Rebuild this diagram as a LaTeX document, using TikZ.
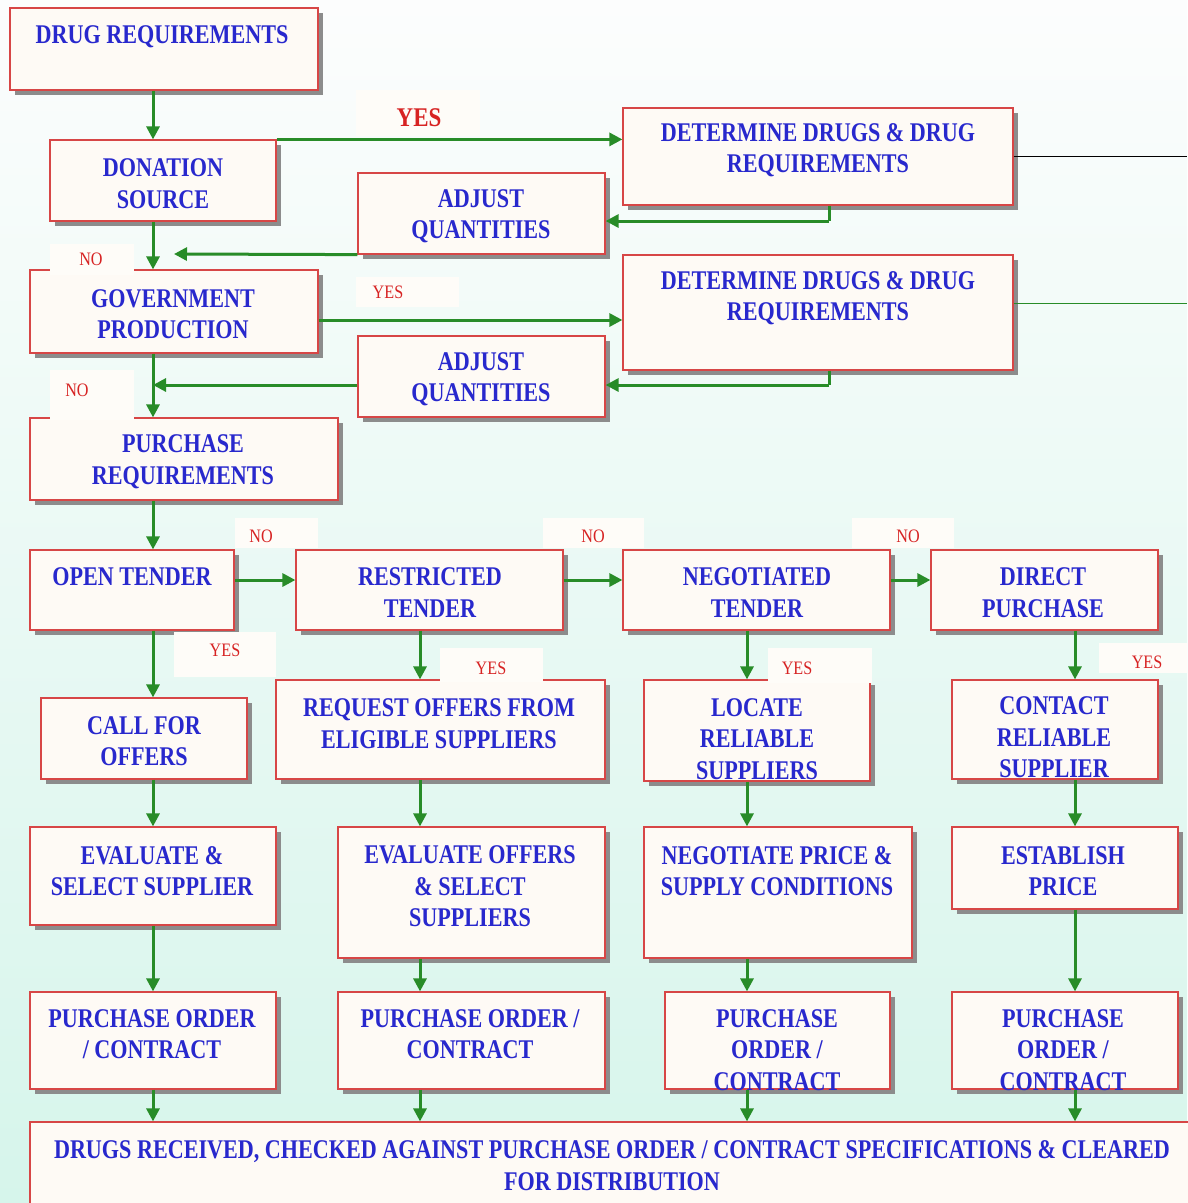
\documentclass[tikz,border=0pt]{standalone}
\usepackage{fontspec}
\setmainfont{Liberation Serif}
\newfontfamily\bxfont[FakeStretch=0.82]{Liberation Serif Bold}
\newfontfamily\lbfont[FakeStretch=0.85]{Liberation Serif}
\newfontfamily\lbbfont[FakeStretch=0.85]{Liberation Serif Bold}
\usetikzlibrary{arrows.meta,shadows,fit,calc}
\definecolor{txtblue}{RGB}{40,40,205}
\definecolor{lblred}{RGB}{215,35,35}
\definecolor{arrgreen}{RGB}{40,140,40}
\definecolor{boxred}{RGB}{215,70,70}
\definecolor{boxfill}{RGB}{254,250,245}
\definecolor{shadowgray}{RGB}{140,140,140}
\definecolor{bgtop}{RGB}{252,253,253}
\definecolor{bgmid}{RGB}{232,248,244}
\definecolor{bgbot}{RGB}{214,245,235}
\definecolor{lblbgc}{RGB}{254,252,248}
\tikzset{
  box/.style={draw=boxred, line width=1.2pt, fill=boxfill, inner sep=0pt,
    drop shadow={shadow xshift=5pt, shadow yshift=-5pt, fill=shadowgray, opacity=1}},
  txt/.style={font=\bxfont\fontsize{27}{31.5}\selectfont, text=txtblue, align=center, inner sep=0pt},
  lblbg/.style={fill=lblbgc, draw=none, inner sep=0pt},
  lbl/.style={font=\lbfont\fontsize{19}{22}\selectfont, text=lblred, inner sep=0pt},
  lblbig/.style={font=\lbbfont\fontsize{27}{30}\selectfont, text=lblred, inner sep=0pt},
  arr/.style={draw=arrgreen, line width=3pt, -{Triangle[length=13pt,width=13pt]}},
  ln/.style={draw=arrgreen, line width=3pt}
}
\newcommand\bx[5]{\node[box, fit={(#2,#3) (#4,#5)}] (#1) {};}
\newcommand\tx[4]{\node[txt] (#1) at (#2,#3) {#4};}
\newcommand\lbbg[5]{\node[lblbg, fit={(#2,#3) (#4,#5)}] (#1) {};}
\begin{document}
\begin{tikzpicture}[x=1pt,y=-1pt]
\shade[top color=bgtop, middle color=bgmid, bottom color=bgbot] (0,0) rectangle (1187,1203);
\useasboundingbox (0,0) rectangle (1187,1203);
% columns and helper coordinates
\coordinate (c1) at (153,0);
\coordinate (c2) at (420,0);
\coordinate (c3) at (747,0);
\coordinate (c4) at (1075,0);
\coordinate (k1) at (829,221);
\coordinate (k2) at (0,320);
\coordinate (k3) at (829,385);
\coordinate (t1) at (174,254);
\coordinate (e1) at (1187,156);
\coordinate (e2) at (1187,303);
\coordinate (hA) at (0,580);
% boxes
\bx{drug}{10}{8}{318}{90}
\bx{don}{50}{140}{276}{221}
\bx{gov}{30}{270}{318}{353}
\bx{preq}{30}{418}{338}{500}
\bx{detA}{623}{108}{1013}{205}
\bx{adjA}{358}{173}{605}{254}
\bx{detB}{623}{255}{1013}{370}
\bx{adjB}{358}{336}{605}{417}
\bx{open}{30}{550}{234}{630}
\bx{rest}{296}{550}{563}{630}
\bx{nego}{623}{550}{890}{630}
\bx{dir}{931}{550}{1158}{630}
\bx{call}{41}{698}{247}{779}
\bx{req}{276}{680}{605}{779}
\bx{loc}{644}{680}{870}{781}
\bx{cont}{952}{680}{1158}{779}
\bx{evA}{30}{827}{276}{925}
\bx{evB}{338}{827}{605}{958}
\bx{negp}{644}{827}{912}{958}
\bx{est}{952}{827}{1178}{909}
\bx{poA}{30}{992}{276}{1089}
\bx{poB}{338}{992}{605}{1089}
\bx{poC}{665}{992}{890}{1089}
\bx{poD}{952}{992}{1178}{1089}
\bx{recv}{30}{1122}{1200}{1215}
% label backgrounds (over box borders)
\lbbg{bgY1}{356}{90}{480}{136}
\lbbg{bgN1}{50}{244}{134}{275}
\lbbg{bgY2}{356}{277}{459}{307}
\lbbg{bgN2}{50}{370}{134}{420}
\lbbg{bgN3}{235}{518}{318}{548}
\lbbg{bgN4}{543}{518}{644}{548}
\lbbg{bgN5}{852}{518}{954}{548}
\lbbg{bgY3}{174}{632}{276}{677}
\lbbg{bgY4}{440}{648}{543}{682}
\lbbg{bgY5}{768}{648}{872}{683}
\lbbg{bgY6}{1099}{643}{1187}{673}
% texts
\tx{drugT}{162}{37}{DRUG REQUIREMENTS}
\tx{donT}{163}{183.5}{DONATION\\SOURCE}
\tx{govT}{173}{314}{GOVERNMENT\\PRODUCTION}
\tx{preqT}{183}{461.5}{PURCHASE\\REQUIREMENTS}
\tx{detAT}{818}{150}{DETERMINE DRUGS \& DRUG\\REQUIREMENTS}
\tx{detBT}{818}{298}{DETERMINE DRUGS \& DRUG\\REQUIREMENTS}
\tx{adjAT}{481}{216}{ADJUST\\QUANTITIES}
\tx{adjBT}{481}{379}{ADJUST\\QUANTITIES}
\tx{openT}{132}{577}{OPEN TENDER}
\tx{restT}{430}{592.5}{RESTRICTED\\TENDER}
\tx{negoT}{757}{592.5}{NEGOTIATED\\TENDER}
\tx{dirT}{1043}{592.5}{DIRECT\\PURCHASE}
\tx{callT}{144}{741}{CALL FOR\\OFFERS}
\tx{reqT}{439}{723.5}{REQUEST OFFERS FROM\\ELIGIBLE SUPPLIERS}
\tx{locT}{757}{739}{LOCATE\\RELIABLE\\SUPPLIERS}
\tx{contT}{1054}{737.5}{CONTACT\\RELIABLE\\SUPPLIER}
\tx{evAT}{152}{871}{EVALUATE \&\\SELECT SUPPLIER}
\tx{evBT}{470}{886.5}{EVALUATE OFFERS\\\& SELECT\\SUPPLIERS}
\tx{negpT}{777}{871}{NEGOTIATE PRICE \&\\SUPPLY CONDITIONS}
\tx{estT}{1063}{871}{ESTABLISH\\PRICE}
\tx{poAT}{152}{1034}{PURCHASE ORDER\\/ CONTRACT}
\tx{poBT}{470}{1034}{PURCHASE ORDER /\\CONTRACT}
\tx{poCT}{777}{1050}{PURCHASE\\ORDER /\\CONTRACT}
\tx{poDT}{1063}{1050}{PURCHASE\\ORDER /\\CONTRACT}
\tx{recvT}{612}{1165.5}{DRUGS RECEIVED, CHECKED AGAINST PURCHASE ORDER / CONTRACT SPECIFICATIONS \& CLEARED\\FOR DISTRIBUTION}
% labels
\node[lblbig] (Y1) at (419,118) {YES};
\node[lbl] (N1) at (91,259) {NO};
\node[lbl] (Y2) at (388,292) {YES};
\node[lbl] (N2) at (77,390) {NO};
\node[lbl] (N3) at (261,536) {NO};
\node[lbl] (N4) at (593,536) {NO};
\node[lbl] (N5) at (908,536) {NO};
\node[lbl] (Y3) at (225,650) {YES};
\node[lbl] (Y4) at (491,668) {YES};
\node[lbl] (Y5) at (797,668) {YES};
\node[lbl] (Y6) at (1147,662) {YES};
% connectors: left column
\draw[arr] (drug.south -| c1) -- (don.north -| c1);
\draw[arr] (don.north east) -- (don.north east -| detA.west);
\draw[arr] (don.south -| c1) -- (gov.north -| c1);
\draw[ln] (detA.south -| k1) -- (k1);
\draw[arr] (k1) -- (adjA.east |- k1);
\draw[arr] (adjA.south west) -- (t1);
\draw[arr] (gov.east |- k2) -- (detB.west |- k2);
\draw[ln] (detB.south -| k3) -- (k3);
\draw[arr] (k3) -- (adjB.east |- k3);
\draw[arr] (adjB.west |- k3) -- (k3 -| c1);
\draw[arr] (gov.south -| c1) -- (preq.north -| c1);
\draw[arr] (preq.south -| c1) -- (open.north -| c1);
\draw[black, line width=0.8pt] (detA.east |- e1) -- (e1);
\draw[arrgreen, line width=0.8pt] (detB.east |- e2) -- (e2);
% tender row
\draw[arr] (open.east |- hA) -- (rest.west |- hA);
\draw[arr] (rest.east |- hA) -- (nego.west |- hA);
\draw[arr] (nego.east |- hA) -- (dir.west |- hA);
% columns down
\draw[arr] (open.south -| c1) -- (call.north -| c1);
\draw[arr] (rest.south -| c2) -- (req.north -| c2);
\draw[arr] (nego.south -| c3) -- (loc.north -| c3);
\draw[arr] (dir.south -| c4) -- (cont.north -| c4);
\draw[arr] (call.south -| c1) -- (evA.north -| c1);
\draw[arr] (req.south -| c2) -- (evB.north -| c2);
\draw[arr] (loc.south -| c3) -- (negp.north -| c3);
\draw[arr] (cont.south -| c4) -- (est.north -| c4);
\draw[arr] (evA.south -| c1) -- (poA.north -| c1);
\draw[arr] (evB.south -| c2) -- (poB.north -| c2);
\draw[arr] (negp.south -| c3) -- (poC.north -| c3);
\draw[arr] (est.south -| c4) -- (poD.north -| c4);
\draw[arr] (poA.south -| c1) -- (recv.north -| c1);
\draw[arr] (poB.south -| c2) -- (recv.north -| c2);
\draw[arr] (poC.south -| c3) -- (recv.north -| c3);
\draw[arr] (poD.south -| c4) -- (recv.north -| c4);
\end{tikzpicture}
\end{document}
